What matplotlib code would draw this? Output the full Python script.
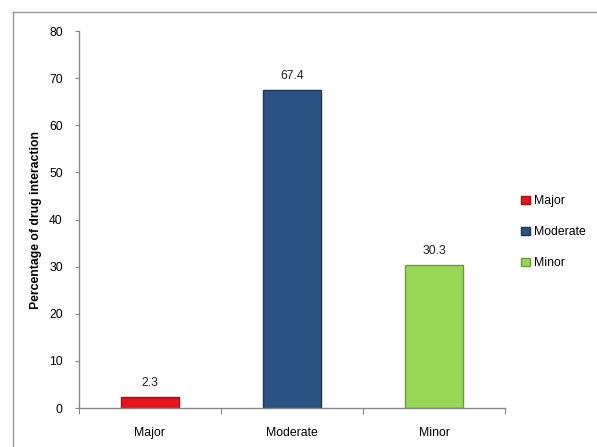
import matplotlib
matplotlib.use("Agg")
import matplotlib.pyplot as plt
from matplotlib.lines import Line2D
from matplotlib.patches import Patch

categories = ["Major", "Moderate", "Minor"]
values = [2.3, 67.4, 30.3]
labels = ["2.3", "67.4", "30.3"]
colors = ["#e8161c", "#2a5384", "#98d755"]
edge_colors = ["#a50e12", "#1b3658", "#6a9c38"]
yticks = [0, 10, 20, 30, 40, 50, 60, 70, 80]

plt.rcParams['font.family'] = ['Liberation Sans', 'DejaVu Sans']

fig = plt.figure(figsize=(5.97, 4.47), dpi=100)
ax = fig.add_axes([0.132, 0.0872, 0.714, 0.8434])

x = range(len(categories))
bars = ax.bar(x, values, width=0.41, color=colors, edgecolor=edge_colors, linewidth=1.0)
for xi, v, lab in zip(x, values, labels):
    ax.text(xi, v + 1.8, lab, ha="center", va="bottom", fontsize=8.8, color="#222222")

ax.set_xlim(-0.5, 2.5)
ax.set_ylim(0, 80)
ax.set_yticks(yticks)
ax.set_yticklabels([str(t) for t in yticks], fontsize=8.8)
ax.set_xticks([-0.5, 0.5, 1.5, 2.5])
ax.set_xticklabels([])
ax.set_xticks([0, 1, 2], minor=True)
ax.set_xticklabels(categories, minor=True, fontsize=8.8)
ax.tick_params(axis="x", which="minor", length=0, pad=14)
ax.tick_params(axis="x", which="major", length=4, color="#888888")
ax.tick_params(axis="y", length=3, color="#888888", pad=8.5)

for s in ["top", "right"]:
    ax.spines[s].set_visible(False)
for s in ["left", "bottom"]:
    ax.spines[s].set_color("#888888")
    ax.spines[s].set_linewidth(1.0)

ax.set_ylabel("Percentage of drug interaction", fontsize=8.8, fontweight="bold", labelpad=5)

handles = [Patch(facecolor=c, edgecolor=e) for c, e in zip(colors, edge_colors)]
fig.legend(handles, categories, loc="center left", bbox_to_anchor=(0.855, 0.48),
           frameon=False, fontsize=8.8, handlelength=0.7, handleheight=0.7,
           handletextpad=0.3, labelspacing=1.55)

# outer border (left and top)
fig.add_artist(Line2D([13/597, 13/597], [0, 1 - 12/447], color="#999999", lw=1.0, transform=fig.transFigure))
fig.add_artist(Line2D([13/597, 1], [1 - 12/447, 1 - 12/447], color="#999999", lw=1.0, transform=fig.transFigure))

fig.savefig("out.png", dpi=100)
